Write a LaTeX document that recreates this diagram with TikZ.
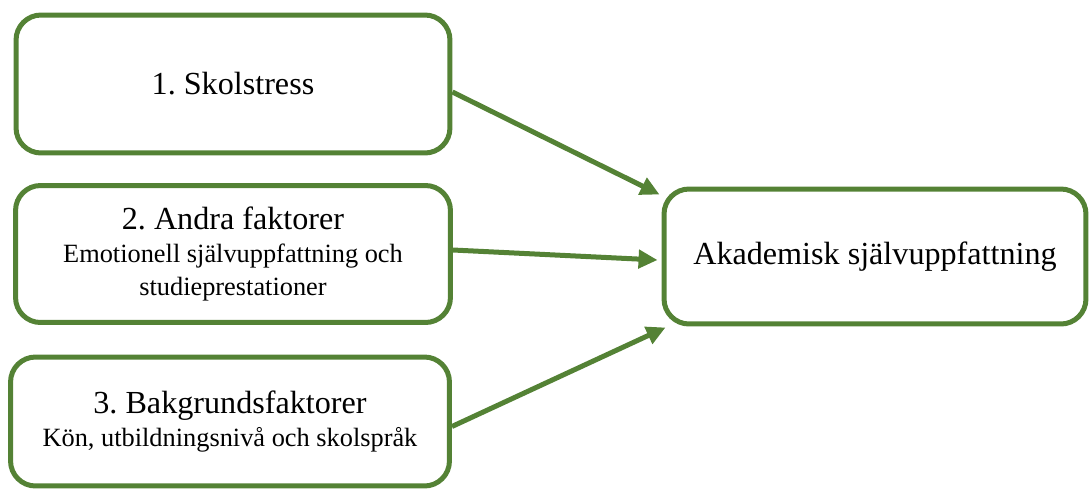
\documentclass[tikz,border=0pt]{standalone}
\usepackage{fontspec}
\setmainfont{Liberation Serif}
\usetikzlibrary{arrows.meta,calc,positioning}
\definecolor{boxgreen}{HTML}{548235}
\newcommand{\subfont}{\fontsize{15}{17}\selectfont}

\begin{document}
\begin{tikzpicture}[x=0.02cm, y=-0.02cm,
    box/.style={draw=boxgreen, line width=0.1cm, rounded corners=0.5cm, align=center, inner sep=0pt,
        font=\fontsize{18.3}{19}\selectfont\frenchspacing},
    link/.style={draw=boxgreen, line width=0.1cm, -{Triangle[length=0.38cm,width=0.36cm]}}]

    \useasboundingbox (0,0) rectangle (1089,488);

    % Boxes
    \node[box, minimum width=8.68cm, minimum height=2.76cm] (stress) at (233,84) {1. Skolstress};
    \node[box, minimum width=8.7cm, minimum height=2.74cm] (andra) at (233,254)
        {2. Andra faktorer\\ {\subfont Emotionell självuppfattning och}\\ {\subfont studieprestationer}};
    \node[box, minimum width=8.78cm, minimum height=2.58cm] (bakgr) at (230,421.5)
        {3. Bakgrundsfaktorer\\ {\subfont Kön, utbildningsnivå och skolspråk}};
    \node[box, minimum width=8.44cm, minimum height=2.7cm] (akad) at (875,256.5) {Akademisk självuppfattning};

    % Arrows
    \draw[link] ($(stress.east)+(0,8)$) -- ($(akad.north west)+(-2,8)$);
    \draw[link] ($(andra.east)+(0,-4)$) -- ($(akad.west)+(-4,3.5)$);
    \draw[link] ($(bakgr.east)+(0,5)$) -- ($(akad.south west)+(4,1)$);

\end{tikzpicture}
\end{document}
